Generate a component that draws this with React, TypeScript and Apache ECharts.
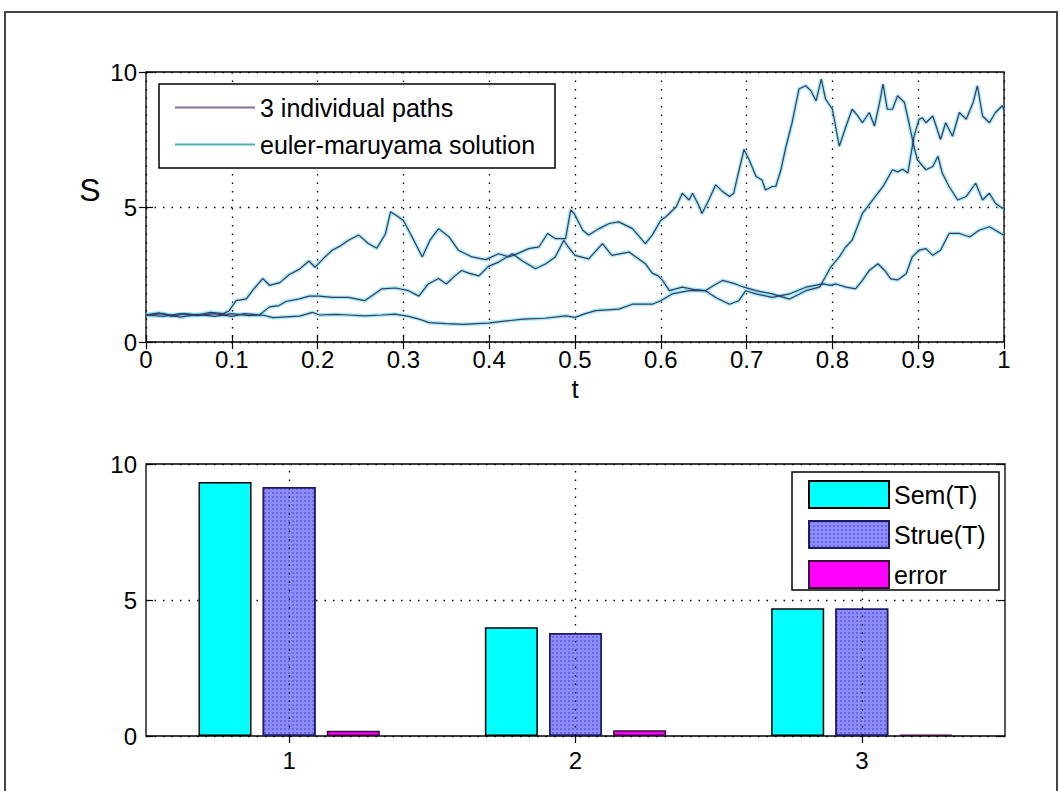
import React, { useEffect, useRef } from 'react';
import * as echarts from 'echarts';

// ---------- Top panel: three sample paths S(t) ----------
const pathA: [number, number][] = [
  [0, 1.0], [0.015, 1.08], [0.03, 0.95], [0.045, 1.05], [0.06, 1.0], [0.075, 1.1], [0.09, 1.05],
  [0.097, 1.16], [0.105, 1.53], [0.117, 1.6], [0.124, 1.9], [0.136, 2.35], [0.144, 2.1], [0.156, 2.2],
  [0.167, 2.5], [0.179, 2.7], [0.19, 3.0], [0.197, 2.77], [0.207, 3.1], [0.217, 3.4], [0.226, 3.55],
  [0.236, 3.77], [0.248, 3.96], [0.259, 3.65], [0.269, 3.47], [0.279, 4.0], [0.285, 4.82], [0.291, 4.7],
  [0.3, 4.5], [0.31, 3.9], [0.322, 3.15], [0.331, 3.77], [0.341, 4.2], [0.353, 3.9], [0.364, 3.4],
  [0.38, 3.15], [0.396, 3.05], [0.411, 3.27], [0.423, 3.15], [0.435, 3.3], [0.446, 3.46], [0.458, 3.52],
  [0.468, 4.02], [0.477, 3.83], [0.489, 3.83], [0.495, 4.89], [0.499, 4.76], [0.509, 4.14], [0.516, 3.96],
  [0.528, 4.2], [0.54, 4.39], [0.551, 4.45], [0.567, 4.2], [0.582, 3.64], [0.59, 3.96], [0.6, 4.51],
  [0.606, 4.64], [0.618, 5.01], [0.625, 5.51], [0.633, 5.26], [0.637, 5.51], [0.645, 5.01], [0.648, 4.76],
  [0.656, 5.26], [0.664, 5.82], [0.672, 5.57], [0.68, 5.39], [0.685, 5.51], [0.689, 6.07], [0.697, 7.13],
  [0.703, 6.75], [0.711, 6.13], [0.718, 6.0], [0.722, 5.63], [0.73, 5.76], [0.734, 5.76], [0.74, 6.38],
  [0.746, 7.25], [0.753, 8.12], [0.761, 9.37], [0.769, 9.49], [0.775, 9.3], [0.781, 8.93], [0.787, 9.74],
  [0.792, 9.0], [0.8, 8.62], [0.808, 7.25], [0.816, 8.0], [0.823, 8.62], [0.829, 8.4], [0.835, 8.12],
  [0.843, 8.5], [0.849, 8.0], [0.855, 8.87], [0.859, 9.55], [0.864, 8.62], [0.87, 8.62], [0.876, 9.12],
  [0.884, 8.87], [0.89, 8.0], [0.895, 7.25], [0.899, 6.75], [0.909, 6.38], [0.917, 6.5], [0.923, 6.88],
  [0.928, 6.26], [0.936, 5.76], [0.946, 5.26], [0.956, 5.39], [0.967, 5.88], [0.975, 5.26], [0.983, 5.51],
  [0.99, 5.14], [0.998, 4.95], [1.0, 5.0],
];

const pathB: [number, number][] = [
  [0, 1.0], [0.02, 0.95], [0.04, 1.05], [0.06, 0.98], [0.08, 1.05], [0.1, 0.95], [0.115, 1.05],
  [0.132, 1.0], [0.144, 1.3], [0.155, 1.35], [0.163, 1.5], [0.179, 1.6], [0.19, 1.7], [0.202, 1.7],
  [0.217, 1.65], [0.236, 1.65], [0.255, 1.53], [0.265, 1.75], [0.275, 1.97], [0.291, 2.0], [0.306, 1.9],
  [0.318, 1.7], [0.329, 2.15], [0.341, 2.35], [0.35, 2.15], [0.36, 2.45], [0.368, 2.65], [0.376, 2.55],
  [0.388, 2.45], [0.399, 2.8], [0.411, 2.96], [0.427, 3.27], [0.438, 3.02], [0.454, 2.71], [0.466, 2.9],
  [0.477, 3.15], [0.487, 3.77], [0.492, 3.52], [0.5, 3.21], [0.516, 3.08], [0.532, 3.64], [0.543, 3.21],
  [0.563, 3.33], [0.582, 2.9], [0.59, 2.55], [0.597, 2.45], [0.602, 2.28], [0.61, 1.9], [0.625, 2.03],
  [0.638, 1.95], [0.652, 1.9], [0.662, 2.1], [0.672, 2.28], [0.687, 2.15], [0.697, 2.03], [0.711, 1.9],
  [0.73, 1.78], [0.75, 1.59], [0.76, 1.75], [0.769, 1.9], [0.785, 2.03], [0.798, 2.77], [0.808, 3.15],
  [0.815, 3.5], [0.823, 3.77], [0.835, 4.76], [0.847, 5.26], [0.859, 5.76], [0.87, 6.38], [0.876, 6.3],
  [0.882, 6.4], [0.888, 6.26], [0.895, 7.6], [0.901, 8.25], [0.905, 8.3], [0.909, 8.12], [0.917, 8.37],
  [0.926, 7.5], [0.932, 8.12], [0.94, 7.62], [0.948, 8.5], [0.956, 8.25], [0.964, 8.87], [0.969, 9.49],
  [0.975, 8.37], [0.983, 8.12], [0.99, 8.5], [0.998, 8.75], [1.0, 8.6],
];

const pathC: [number, number][] = [
  [0, 1.0], [0.02, 1.05], [0.04, 0.92], [0.06, 1.02], [0.08, 0.95], [0.1, 1.05], [0.12, 0.98],
  [0.136, 1.0], [0.148, 0.9], [0.163, 0.93], [0.179, 0.96], [0.194, 1.1], [0.202, 1.0], [0.22, 1.02],
  [0.236, 1.0], [0.255, 0.97], [0.275, 1.0], [0.29, 1.03], [0.306, 0.95], [0.318, 0.85], [0.33, 0.72],
  [0.35, 0.68], [0.37, 0.65], [0.385, 0.68], [0.399, 0.7], [0.42, 0.78], [0.44, 0.85], [0.465, 0.88],
  [0.489, 0.97], [0.5, 0.91], [0.512, 1.05], [0.524, 1.16], [0.551, 1.22], [0.567, 1.4], [0.59, 1.4],
  [0.6, 1.53], [0.613, 1.78], [0.633, 1.9], [0.652, 1.9], [0.664, 1.65], [0.68, 1.4], [0.691, 1.53],
  [0.699, 1.9], [0.711, 1.78], [0.73, 1.65], [0.75, 1.78], [0.769, 2.03], [0.789, 2.15], [0.798, 2.1],
  [0.804, 2.15], [0.816, 2.03], [0.827, 1.97], [0.835, 2.28], [0.843, 2.65], [0.853, 2.9], [0.861, 2.65],
  [0.868, 2.34], [0.876, 2.3], [0.886, 2.53], [0.893, 3.15], [0.901, 3.4], [0.909, 3.46], [0.917, 3.21],
  [0.926, 3.4], [0.936, 4.02], [0.948, 4.02], [0.96, 3.89], [0.971, 4.14], [0.983, 4.27], [0.99, 4.14],
  [1.0, 3.95],
];

const paths = [pathA, pathB, pathC];
const pathName = '3 individual paths';
const emName = 'euler-maruyama solution';

// ---------- Bottom panel: values at T ----------
const barCategories = ['1', '2', '3'];
const semT = [9.34, 4.0, 4.7];
const strueT = [9.15, 3.79, 4.69];
const errorVals = [0.19, 0.21, 0.05];

const FONT = 'Liberation Sans, Arial, Helvetica, sans-serif';

export default function App() {
  const ref = useRef<HTMLDivElement>(null);

  useEffect(() => {
    const chart = echarts.init(ref.current!, null, { renderer: 'svg' });
    const dotted = { type: [1.5, 7] as any, color: '#000', width: 1.3 };
    const tick = { show: true, inside: true, length: 7, lineStyle: { color: '#000', width: 1.2 } };
    const label = { fontSize: 24, color: '#000', fontFamily: FONT };

    const lineSeries: any[] = [];
    paths.forEach((p) => {
      lineSeries.push({
        type: 'line', name: emName, xAxisIndex: 0, yAxisIndex: 0, data: p,
        symbol: 'none', showSymbol: false, z: 2, silent: true,
        itemStyle: { color: '#4fb0b4' },
        lineStyle: { color: '#35d6df', width: 4, opacity: 0.45 },
      });
    });
    paths.forEach((p) => {
      lineSeries.push({
        type: 'line', name: pathName, xAxisIndex: 0, yAxisIndex: 0, data: p,
        symbol: 'none', showSymbol: false, z: 3, silent: true,
        itemStyle: { color: '#8a6c9a' },
        lineStyle: { color: '#40336a', width: 1.2 },
      });
    });

    const option: any = {
      animation: false,
      backgroundColor: '#fff',
      textStyle: { fontFamily: FONT },
      grid: [
        { left: 146, top: 72, width: 858, height: 270, show: true, borderColor: '#000', borderWidth: 1.3, backgroundColor: 'transparent' },
        { left: 146, top: 464, width: 859, height: 272, show: true, borderColor: '#000', borderWidth: 1.3, backgroundColor: 'transparent' },
      ],
      xAxis: [
        {
          type: 'value', gridIndex: 0, min: 0, max: 1, interval: 0.1, position: 'bottom',
          axisLine: { show: false }, axisTick: tick, axisLabel: { ...label, margin: 5 },
          splitLine: { show: true, lineStyle: dotted },
        },
        {
          type: 'value', gridIndex: 0, min: 0, max: 1, interval: 0.1, position: 'top',
          axisLine: { show: false }, axisTick: tick, axisLabel: { show: false }, splitLine: { show: false },
        },
        {
          type: 'category', gridIndex: 1, data: barCategories, position: 'bottom',
          axisLine: { show: false }, axisTick: { ...tick, alignWithLabel: true },
          axisLabel: { ...label, margin: 12 }, splitLine: { show: false },
        },
        {
          type: 'category', gridIndex: 1, data: barCategories, position: 'top',
          axisLine: { show: false }, axisTick: { ...tick, alignWithLabel: true },
          axisLabel: { show: false }, splitLine: { show: false },
        },
      ],
      yAxis: [
        {
          type: 'value', gridIndex: 0, min: 0, max: 10, interval: 5, position: 'left',
          axisLine: { show: false }, axisTick: tick, axisLabel: { ...label, margin: 9 },
          splitLine: { show: true, lineStyle: dotted },
        },
        {
          type: 'value', gridIndex: 0, min: 0, max: 10, interval: 5, position: 'right',
          axisLine: { show: false }, axisTick: tick, axisLabel: { show: false }, splitLine: { show: false },
        },
        {
          type: 'value', gridIndex: 1, min: 0, max: 10, interval: 5, position: 'left',
          axisLine: { show: false }, axisTick: tick, axisLabel: { ...label, margin: 9 },
          splitLine: { show: true, lineStyle: dotted },
        },
        {
          type: 'value', gridIndex: 1, min: 0, max: 10, interval: 5, position: 'right',
          axisLine: { show: false }, axisTick: tick, axisLabel: { show: false }, splitLine: { show: false },
        },
      ],
      legend: [
        {
          orient: 'vertical', left: 175, top: 95, padding: 0, itemWidth: 80, itemHeight: 2, itemGap: 12,
          icon: 'rect', textStyle: { fontSize: 25, color: '#000', fontFamily: FONT }, selectedMode: false, z: 10,
          data: [
            { name: pathName, itemStyle: { color: '#8a6c9a', borderWidth: 0 } },
            { name: emName, itemStyle: { color: '#4fb0b4', borderWidth: 0 } },
          ],
        },
        {
          orient: 'vertical', left: 808, top: 480, padding: 0, itemWidth: 80, itemHeight: 27, itemGap: 11,
          icon: 'rect', textStyle: { fontSize: 25, color: '#000', fontFamily: FONT }, selectedMode: false, z: 10,
          data: ['Sem(T)', 'Strue(T)', 'error'],
        },
      ],
      graphic: [
        { type: 'rect', z: 8, shape: { x: 159, y: 84, width: 396, height: 84 }, style: { fill: '#fff', stroke: '#000', lineWidth: 1.5 } },
        { type: 'rect', z: 8, shape: { x: 792, y: 472, width: 207, height: 118 }, style: { fill: '#fff', stroke: '#000', lineWidth: 1.5 } },
        { type: 'rect', z: 0, silent: true, shape: { x: 5, y: 12, width: 1052, height: 800 }, style: { fill: 'none', stroke: '#444', lineWidth: 2 } },
        { type: 'text', z: 9, x: 90, y: 190, style: { text: 'S', fontSize: 32, fontFamily: FONT, fill: '#000', align: 'center', verticalAlign: 'middle' } },
        { type: 'text', z: 9, x: 575, y: 389, style: { text: 't', fontSize: 26, fontFamily: FONT, fill: '#000', align: 'center', verticalAlign: 'middle' } },
      ],
      series: [
        ...lineSeries,
        {
          type: 'line', name: '_grid', xAxisIndex: 2, yAxisIndex: 2, data: [], z: 1, silent: true,
          markLine: {
            silent: true, symbol: 'none', label: { show: false },
            lineStyle: { type: [1.5, 7], color: '#000', width: 1.3 },
            data: barCategories.map((c) => ({ xAxis: c })),
          },
        },
        {
          type: 'bar', name: 'Sem(T)', xAxisIndex: 2, yAxisIndex: 2, data: semT, z: 2,
          barWidth: 53, barGap: '21%',
          itemStyle: { color: '#00ffff', borderColor: '#000', borderWidth: 1.5 },
        },
        {
          type: 'bar', name: 'Strue(T)', xAxisIndex: 2, yAxisIndex: 2, data: strueT, z: 2,
          barWidth: 53, barGap: '21%',
          itemStyle: {
            color: '#8c8cff', borderColor: '#1c1c66', borderWidth: 1.5,
            decal: { symbol: 'rect', symbolSize: 1, dashArrayX: [1.5, 2], dashArrayY: [1.5, 2], color: 'rgba(40,40,140,0.35)' },
          },
        },
        {
          type: 'bar', name: 'error', xAxisIndex: 2, yAxisIndex: 2, data: errorVals, z: 2,
          barWidth: 53, barGap: '21%',
          itemStyle: { color: '#ff00ff', borderColor: '#3a0a3a', borderWidth: 1.5 },
        },
      ],
    };
    chart.setOption(option);
    return () => chart.dispose();
  }, []);

  return (
    <div
      ref={ref}
      style={{ position: 'fixed', left: 0, top: 0, width: 1060, height: 791, background: '#fff' }}
    />
  );
}
